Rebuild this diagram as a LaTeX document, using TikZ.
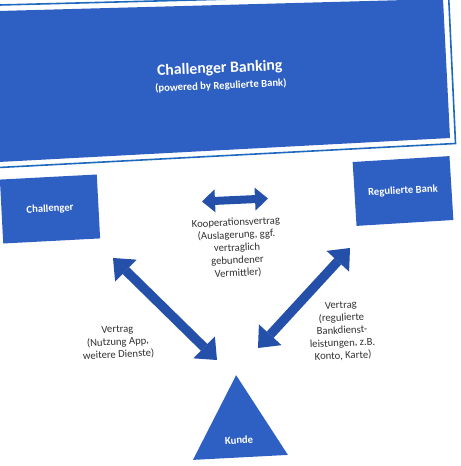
\documentclass[tikz,border=0pt]{standalone}
\usepackage{fontspec}
\setmainfont{Carlito}
\usetikzlibrary{arrows.meta,shapes.geometric}
\definecolor{slideblue}{RGB}{46,95,194}
\definecolor{arrowblue}{RGB}{36,80,170}
\definecolor{rimblue}{RGB}{30,105,190}
\definecolor{textgrey}{RGB}{50,50,50}
\begin{document}
\begin{tikzpicture}[x=0.75pt,y=-0.75pt,
  box/.style={fill=slideblue, draw=none, minimum width=72.75pt, minimum height=48pt, inner sep=0pt, text=white, font=\bfseries\fontsize{8}{9.5}\selectfont},
  whitetext/.style={text=white, inner sep=0pt, font=\bfseries\fontsize{8}{9.5}\selectfont},
  note/.style={text=textgrey, align=center, inner sep=0pt, font=\fontsize{8}{9.5}\selectfont},
  bigarrow/.style={draw=arrowblue, line width=7pt,
    {Triangle[length=13.5pt,width=23pt,line width=0pt]}-{Triangle[length=13.5pt,width=23pt,line width=0pt]}},
  smallarrow/.style={draw=arrowblue, line width=6pt,
    {Triangle[length=9.75pt,width=17.25pt,line width=0pt]}-{Triangle[length=9.75pt,width=17.25pt,line width=0pt]}}
]
\useasboundingbox (0,0) rectangle (460,466);
\clip (0,0) rectangle (460,466);
\fill[white] (0,0) rectangle (460,466);

% big panel
\coordinate (p1) at (-20,11.5);
\coordinate (p2) at (443,-1);
\coordinate (p3) at (450,138);
\coordinate (p4) at (-20,163);
\coordinate (r1) at (-20,5.5);
\coordinate (r2) at (448.5,-6.5);
\coordinate (r3) at (455.5,143.5);
\coordinate (r4) at (-20,168.5);
\fill[slideblue] (p1) -- (p2) -- (p3) -- (p4) -- cycle;
\draw[rimblue, line width=1.2pt] (r1) -- (r2) -- (r3) -- (r4) -- cycle;
\node[whitetext, rotate=2.5, anchor=base, font=\bfseries\fontsize{11.8}{14}\selectfont] (title) at (220,73) {Challenger Banking};
\node[whitetext, rotate=2.5, anchor=base] (subtitle) at (221,89) {(powered by Regulierte Bank)};

% boxes
\node[box, rotate=3] (challenger) at (50,209) {Challenger};
\node[box, rotate=3.5] (bank) at (403,191) {Regulierte Bank};
\node[regular polygon, regular polygon sides=3, fill=slideblue, draw=none, minimum size=82.3pt, inner sep=0pt, rotate=3] (kunde) at (239,430) {};
\node[whitetext, rotate=3] (kundetext) at (239,440) {Kunde};

% arrows
\coordinate (ta1) at (202,201.5);
\coordinate (ta2) at (268,198.5);
\draw[smallarrow] (ta1) -- (ta2);
\coordinate (la1) at (113,258);
\coordinate (la2) at (217,360);
\draw[bigarrow] (la1) -- (la2);
\coordinate (ra1) at (350,248);
\coordinate (ra2) at (258,348);
\draw[bigarrow] (ra1) -- (ra2);

% notes
\node[note, rotate=2.5] (koop) at (237,248) {Kooperationsvertrag\\(Auslagerung, ggf.\\vertraglich\\gebundener\\Vermittler)};
\node[note, rotate=2.5] (vleft) at (118,342.5) {Vertrag\\(Nutzung App,\\weitere Dienste)};
\node[note, rotate=2.5] (vright) at (342,331) {Vertrag\\(regulierte\\Bankdienst-\\leistungen, z.B.\\Konto, Karte)};
\end{tikzpicture}
\end{document}
